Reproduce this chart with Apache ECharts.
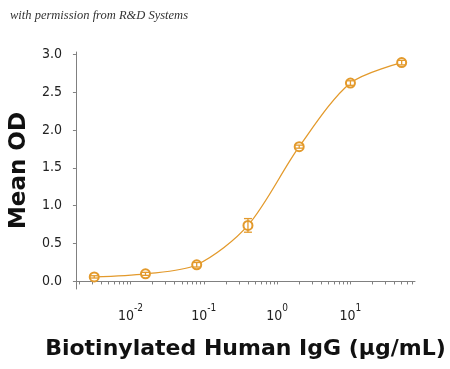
<!DOCTYPE html>
<html>
<head>
<meta charset="utf-8">
<script src="https://cdn.jsdelivr.net/npm/echarts@6/dist/echarts.min.js"></script>
<style>html,body{margin:0;padding:0;background:#fff;}#c{width:450px;height:369px;}</style>
</head>
<body>
<div id="c"></div>
<script>
// Data
const concentrations = [0.0032, 0.016, 0.08, 0.4, 2, 10, 50];
const meanOD = [0.06, 0.10, 0.22, 0.74, 1.78, 2.62, 2.89];
const errLow = [0.045, 0.08, 0.19, 0.65, 1.76, 2.59, 2.86];
const errHigh = [0.075, 0.12, 0.25, 0.83, 1.80, 2.65, 2.92];
const yTickValues = [0, 0.5, 1.0, 1.5, 2.0, 2.5, 3.0];
const xLabelValues = [0.01, 0.1, 1, 10];
const xMinorTicks = [];
[0.001, 0.01, 0.1, 1, 10].forEach(function (d) {
  for (let k = 1; k <= 9; k++) {
    const v = +(d * k).toPrecision(3);
    if (v >= 0.0018 && v <= 76) xMinorTicks.push(v);
  }
});

const color = '#E39A2C';
const axisColor = '#808080';
const tickFont = '"DejaVu Sans Condensed", "Liberation Sans", sans-serif';

const chart = echarts.init(document.getElementById('c'));
chart.setOption({
  animation: false,
  backgroundColor: '#fff',
  graphic: [{
    type: 'text', left: 10, top: 9,
    style: { text: 'with permission from R&D Systems', font: 'italic 12.5px "Liberation Serif"', fill: '#333' }
  }],
  grid: { left: 74, right: 35, top: 52, bottom: 80 },
  xAxis: {
    type: 'log', min: 0.0018, max: 76, logBase: 10,
    name: 'Biotinylated Human IgG (\u03bcg/mL)',
    nameLocation: 'middle', nameGap: 49,
    nameTextStyle: { fontFamily: 'DejaVu Sans', fontWeight: 'bold', fontSize: 22, color: '#111' },
    axisLine: { lineStyle: { color: axisColor, width: 1 } },
    axisTick: { show: true, length: 3, customValues: xMinorTicks, lineStyle: { color: axisColor } },
    minorTick: { show: false },
    splitLine: { show: false },
    axisLabel: {
      customValues: xLabelValues, margin: 14,
      formatter: function (v) { return '{b|10}{s|' + Math.round(Math.log10(v)) + '}'; },
      rich: {
        b: { fontFamily: tickFont, fontSize: 14, color: '#222', lineHeight: 20, verticalAlign: 'bottom' },
        s: { fontFamily: tickFont, fontSize: 10, color: '#222', lineHeight: 20, verticalAlign: 'top' }
      }
    }
  },
  yAxis: {
    type: 'value', min: -0.1, max: 3.03,
    name: 'Mean OD', nameLocation: 'middle', nameGap: 40, nameRotate: 90,
    nameTextStyle: { fontFamily: 'DejaVu Sans', fontWeight: 'bold', fontSize: 23, color: '#111' },
    axisLine: { show: true, lineStyle: { color: axisColor, width: 1 } },
    axisTick: { show: true, length: 3, customValues: yTickValues, lineStyle: { color: axisColor } },
    splitLine: { show: false },
    axisLabel: {
      customValues: yTickValues, margin: 14,
      fontFamily: tickFont, fontSize: 14, color: '#222',
      formatter: function (v) { return v.toFixed(1); }
    }
  },
  series: [{
    type: 'line',
    data: concentrations.map(function (x, i) { return [x, meanOD[i]]; }),
    smooth: 0.3,
    symbol: 'emptyCircle', symbolSize: 9,
    lineStyle: { color: color, width: 1.3 },
    itemStyle: { color: color, borderColor: color, borderWidth: 1.3 },
    z: 3
  }, {
    type: 'custom',
    data: concentrations.map(function (x, i) { return [x, errLow[i], errHigh[i]]; }),
    renderItem: function (params, api) {
      const lo = api.coord([api.value(0), api.value(1)]);
      const hi = api.coord([api.value(0), api.value(2)]);
      const w = 4;
      const st = { stroke: color, lineWidth: 1.3 };
      return {
        type: 'group',
        children: [
          { type: 'line', shape: { x1: lo[0], y1: lo[1], x2: hi[0], y2: hi[1] }, style: st },
          { type: 'line', shape: { x1: lo[0] - w, y1: lo[1], x2: lo[0] + w, y2: lo[1] }, style: st },
          { type: 'line', shape: { x1: hi[0] - w, y1: hi[1], x2: hi[0] + w, y2: hi[1] }, style: st }
        ]
      };
    },
    z: 4
  }]
});
</script>
</body>
</html>
